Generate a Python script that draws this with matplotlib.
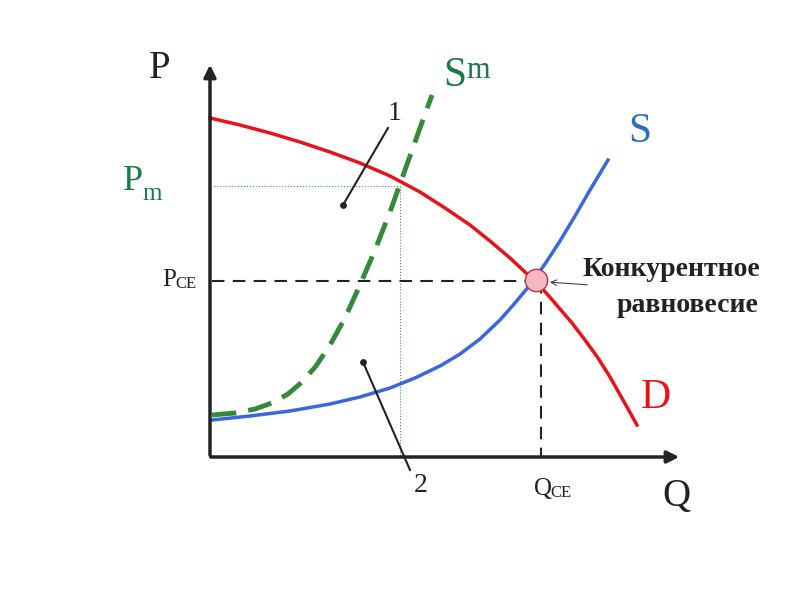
import matplotlib
matplotlib.use("Agg")
import matplotlib.pyplot as plt

# curves in picture coordinates (x right, y down)
d_x = [210, 240, 270, 300, 330, 360, 390, 420, 445, 470, 490, 510, 525, 535, 548, 560, 572, 585, 598, 610, 623, 637]
d_y = [118, 125, 133, 142, 152, 163, 176, 192, 208, 225, 241, 258, 272, 281, 295, 309, 323, 340, 358, 377, 400, 425]
s_x = [212, 250, 290, 330, 360, 390, 415, 440, 460, 480, 500, 515, 530, 545, 560, 575, 590, 608]
s_y = [420, 416, 411, 404, 397, 388, 378, 366, 354, 339, 320, 303, 285, 264, 241, 216, 190, 160]
sm_x = [212, 235, 255, 272, 288, 302, 316, 330, 345, 360, 375, 390, 405, 420, 432]
sm_y = [415, 413, 409, 403, 394, 382, 366, 345, 318, 285, 250, 212, 170, 128, 95]

fig = plt.figure(figsize=(8, 6), dpi=100)
ax = fig.add_axes([0, 0, 1, 1])
ax.set_xlim(0, 800); ax.set_ylim(600, 0); ax.axis("off")
serif = "Liberation Serif"

ax.annotate("", xy=(210, 62), xytext=(210, 458), arrowprops=dict(arrowstyle="-|>", lw=2.5, color="#222", mutation_scale=18))
ax.annotate("", xy=(682, 457), xytext=(208, 457), arrowprops=dict(arrowstyle="-|>", lw=2.5, color="#222", mutation_scale=18))

ax.plot([214, 400], [186, 186], color="#3a9a50", lw=0.8, ls=":")
ax.plot([400, 400], [186, 457], color="#3a9a50", lw=0.8, ls=":")
ax.plot([212, 536], [281, 281], color="#222", lw=1.5, ls=(0, (6, 4)))
ax.plot([541, 541], [281, 457], color="#222", lw=1.5, ls=(0, (6, 4)))

ax.plot(d_x, d_y, color="#e8131a", lw=2.5)
ax.plot(s_x, s_y, color="#3a66e0", lw=2.5)
ax.plot(sm_x, sm_y, color="#338a3a", lw=3.5, ls=(0, (5, 2.5)))

ax.scatter([536], [280], s=260, facecolor="#f5b8c0", edgecolor="#c03040", lw=1, zorder=5)

ax.plot([388, 343], [128, 205], color="#222", lw=1.5)
ax.scatter([343], [205], s=15, color="#222")
ax.plot([363, 410], [362, 470], color="#222", lw=1.5)
ax.scatter([363], [362], s=15, color="#222")
ax.annotate("", xy=(547, 282), xytext=(590, 285), arrowprops=dict(arrowstyle="->", lw=0.8, color="#444"))

ax.text(160, 68, "P", fontsize=28, family=serif, ha="center", va="center", color="#222")
ax.text(676, 497, "Q", fontsize=28, family=serif, ha="center", va="center", color="#222")
ax.text(443, 76, "S", fontsize=30, family=serif, ha="left", va="center", color="#1a7a4a")
ax.text(466, 70, "m", fontsize=22, family=serif, ha="left", va="center", color="#1a7a4a")
ax.text(640, 132, "S", fontsize=30, family=serif, ha="center", va="center", color="#2a70c0")
ax.text(656, 398, "D", fontsize=30, family=serif, ha="center", va="center", color="#e8131a")
ax.text(123, 182, "P", fontsize=26, family=serif, ha="left", va="center", color="#1a7a4a")
ax.text(142, 194, "m", fontsize=18, family=serif, ha="left", va="center", color="#1a7a4a")
ax.text(162, 280, "P", fontsize=18, family=serif, ha="left", va="center", color="#222")
ax.text(175, 284, "CE", fontsize=12, family=serif, ha="left", va="center", color="#222")
ax.text(534, 489, "Q", fontsize=18, family=serif, ha="left", va="center", color="#222")
ax.text(550, 493, "CE", fontsize=12, family=serif, ha="left", va="center", color="#222")
ax.text(395, 113, "1", fontsize=20, family=serif, ha="center", va="center", color="#222")
ax.text(421, 485, "2", fontsize=20, family=serif, ha="center", va="center", color="#222")
ax.text(671, 270, "Конкурентное", fontsize=20, family=serif, weight="bold", ha="center", va="center", color="#222")
ax.text(688, 305, "равновесие", fontsize=20, family=serif, weight="bold", ha="center", va="center", color="#222")

fig.savefig("out.png", dpi=100)
